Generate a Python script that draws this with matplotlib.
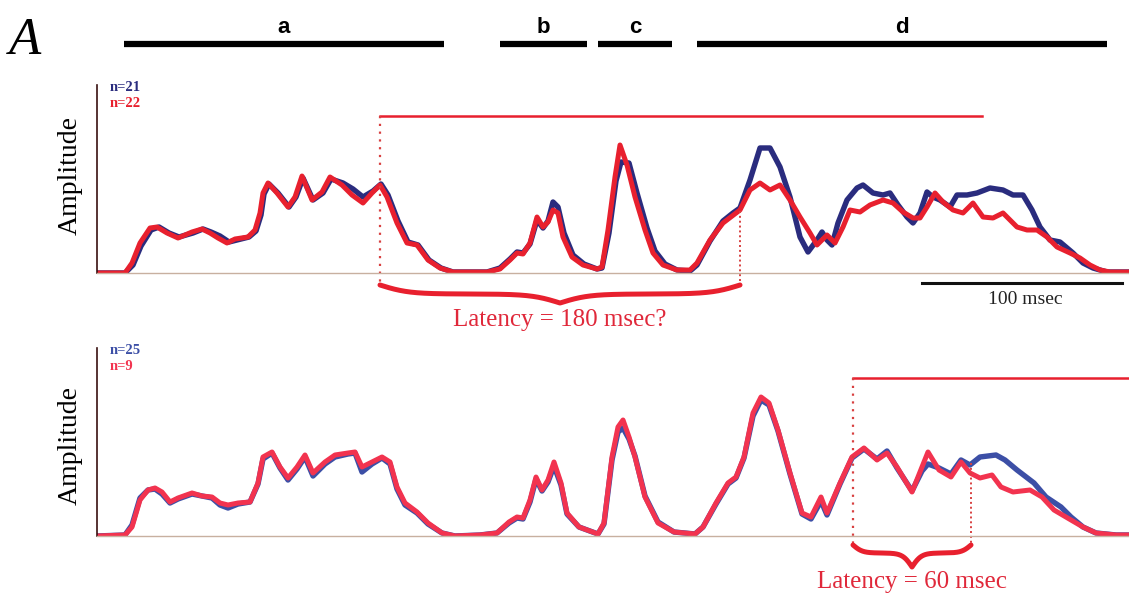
import numpy as np
from matplotlib import pyplot as plt

# time in msec, amplitude in arbitrary units (axis top = 188)
top_t_red = [0, 14, 17.5, 21.5, 26.5, 30, 35, 40.5, 47.5, 52.5, 56.5, 60.5, 65, 69, 75.5, 79, 81.5, 83,
             85.5, 90, 95.5, 99, 102.5, 107.5, 112.5, 116.5, 122.5, 127.5, 133, 137.5, 141.5, 145, 150,
             155, 160, 165.5, 171.5, 178, 195, 201.5, 206.5, 210, 213, 216.5, 220, 223, 225.5, 228,
             230.5, 233, 237.5, 243, 250, 252.5, 255.5, 259, 261.5, 265, 269, 274, 278, 283, 290, 296.5,
             300, 306.5, 313, 321.5, 326.5, 331.5, 336.5, 341.5, 346.5, 351.5, 356.5, 360, 365, 369,
             373, 376.5, 381.5, 386.5, 393, 398, 403, 408, 411.5, 415, 419, 423, 428, 433, 438, 443,
             448, 453, 460, 465, 470, 475, 480, 486.5, 491.5, 496.5, 501.5, 506.5, 516]
top_red = [0, 0, 10, 30, 45, 46, 40, 35, 41, 44, 40, 35, 30, 34, 36, 43, 60, 80,
           90, 80, 66, 76, 97, 73, 81, 96, 88, 78, 70, 80, 88, 76, 50,
           30, 28, 13, 5, 1, 1, 4, 13, 20, 19, 30, 56, 46, 51, 63,
           60, 36, 16, 8, 4, 6, 43, 96, 128, 108, 76, 43, 20, 8, 3, 3,
           10, 33, 50, 63, 83, 90, 83, 88, 73, 56, 40, 28, 38, 30,
           46, 63, 61, 68, 73, 70, 61, 55, 55, 66, 80, 71, 63, 60, 70, 56,
           55, 60, 46, 43, 43, 36, 26, 20, 15, 8, 3, 1, 1]

top_t_blue = [0, 14, 18, 22, 27, 31, 36, 41, 48, 53, 57, 61.5, 66, 70, 76, 79.5, 82, 83.5,
              86, 90.5, 96, 99.5, 103, 108, 113, 117, 123, 128, 133, 138, 142, 145.5, 150.5,
              155.5, 160.5, 166, 172, 178, 195, 201.5, 206.5, 210, 213, 216.5, 220, 223, 225.5, 228,
              230.5, 233.5, 238, 243.5, 250, 252.5, 256, 259.5, 262, 266, 270, 275, 279, 284, 290,
              296.5, 300, 306.5, 313, 318, 321.5, 326.5, 331.5, 336.5, 341.5, 346.5, 351.5, 355.5,
              360, 362.5, 365, 367.5, 370.5, 375, 380, 383, 388, 393, 396.5, 400.5, 405, 408, 411.5,
              415, 418, 421.5, 426.5, 430, 435, 440, 446.5, 453, 458, 463, 467.5, 471.5, 476.5,
              481.5, 488, 493, 498, 505, 516]
top_blue = [0, 0, 8, 27, 43, 46, 40, 36, 40, 44, 41, 37, 31, 33, 36, 42, 58, 79,
            89, 80, 66, 76, 95, 73, 80, 94, 90, 84, 76, 82, 89, 78, 52,
            31, 28, 13, 5, 1, 1, 5, 14, 21, 20, 29, 53, 45, 52, 71,
            66, 40, 18, 9, 4, 5, 40, 92, 111, 110, 80, 45, 22, 9, 3,
            2, 8, 32, 52, 60, 65, 93, 125, 125, 106, 76, 36, 21,
            33, 41, 33, 28, 50, 73, 85, 88, 80, 78, 80, 68, 56, 50, 60,
            81, 76, 73, 66, 78, 78, 80, 85, 83, 78, 78, 63, 46, 33,
            31, 20, 10, 5, 1, 1]

bot_t_red = [0, 14, 17.5, 21.5, 25.5, 29, 32.5, 36.5, 40.5, 47.5, 52.5, 57.5, 61.5, 65.5, 70.5, 76.5,
             80.5, 83, 87.5, 91.5, 95.5, 100, 104, 108, 114, 119, 125.5, 129, 132.5, 137.5, 142.5,
             146.5, 150, 154, 160, 165.5, 172.5, 179, 191.5, 200, 206, 210, 213, 216.5, 219.5, 222.5,
             225.5, 228.5, 232, 235, 241, 250.5, 253.5, 257.5, 260.5, 263, 266, 269, 274, 280.5, 288.5,
             299, 303, 309.5, 315.5, 319.5, 323.5, 328, 332, 336, 340.5, 346.5, 352.5, 357, 362, 365,
             371.5, 377.5, 383.5, 390, 395, 400, 407.5, 412.5, 415.5, 421, 427, 432, 436.5, 441.5,
             447.5, 452, 458, 466.5, 472.5, 478.5, 487, 493, 499.5, 509.5, 516]
bot_red = [0, 1, 9, 36, 46, 48, 44, 34, 38, 43, 40, 39, 33, 31, 33, 34,
           53, 79, 84, 69, 58, 69, 81, 63, 74, 81, 83, 84, 69, 74, 79,
           74, 49, 33, 24, 13, 3, 0, 1, 3, 14, 19, 18, 36, 59, 46,
           56, 74, 53, 23, 9, 2, 13, 79, 109, 116, 99, 79, 39, 13, 4,
           2, 9, 33, 53, 59, 79, 123, 139, 133, 106, 63, 23, 19, 39, 23,
           53, 79, 88, 76, 83, 69, 44, 69, 84, 66, 59, 74, 63, 58,
           61, 49, 44, 46, 39, 26, 16, 9, 3, 1, 1]

bot_t_blue = [0, 14, 17.5, 21.5, 25.5, 29, 32.5, 36.5, 40.5, 47.5, 52.5, 57.5, 61.5, 65.5, 70.5, 76.5,
              80.5, 83, 87.5, 91.5, 95.5, 100, 104, 108, 114, 119, 125.5, 129, 132.5, 137.5, 142.5,
              146.5, 150, 154, 160, 165.5, 172.5, 179, 191.5, 200, 206, 210, 213, 216.5, 219.5, 222.5,
              225.5, 228.5, 232, 235, 241, 250.5, 253.5, 257.5, 260.5, 263, 266, 269, 274, 280.5, 288.5,
              299, 303, 309.5, 315.5, 319.5, 323.5, 328, 332, 336, 340.5, 346.5, 352.5, 357, 362, 365,
              371.5, 377.5, 383.5, 390, 395, 400, 407.5, 412.5, 415.5, 421, 427, 432, 436.5, 441.5,
              449.5, 454, 460, 468.5, 474.5, 482, 487, 493, 499.5, 509.5, 516]
bot_blue = [0, 1, 11, 38, 46, 47, 42, 33, 37, 42, 40, 38, 31, 28, 32, 34,
            52, 77, 83, 68, 56, 67, 79, 60, 72, 79, 82, 83, 64, 72, 78,
            72, 47, 31, 23, 12, 3, 0, 1, 3, 13, 18, 17, 34, 57, 45,
            54, 70, 51, 22, 9, 2, 12, 76, 104, 108, 97, 80, 40, 14, 4,
            2, 9, 32, 52, 58, 78, 120, 136, 131, 105, 62, 22, 17, 35, 21,
            52, 78, 87, 77, 85, 68, 45, 65, 72, 68, 62, 76, 71, 79,
            81, 76, 66, 53, 39, 29, 19, 9, 3, 1, 1]

segments = ['a', 'b', 'c', 'd']
seg_start = [13.5, 201.5, 250.5, 300]
seg_end = [173.5, 245, 287.5, 505]

top_n = ['n=21', 'n=22']
bot_n = ['n=25', 'n=9']
top_latency = [141.5, 321.5]   # onset marks (msec)
bot_latency = [378, 437]
top_text = 'Latency = 180 msec?'
bot_text = 'Latency = 60 msec'

NAVY = '#2a2c7e'
RED = '#e8202e'
BLUE2 = '#3c4fa6'
PINK = '#f2334f'
SERIF = 'Liberation Serif'


def brace(ax, x0, x1, y_end, y_flat, y_tip, color):
    span = x1 - x0
    beta = 3.0 / (0.12 * span)
    xm = (x0 + x1) / 2
    xh = np.linspace(x0, xm, 200)
    u = 1 / (1 + np.exp(-beta * (xh - x0))) - 0.5
    v = 1 / (1 + np.exp(-beta * (xh - xm)))
    yh = y_end - 2 * u * (y_end - y_flat) - 2 * v * (y_flat - y_tip)
    xs = np.concatenate([xh, 2 * xm - xh[::-1]])
    ys = np.concatenate([yh, yh[::-1]])
    ax.plot(xs, ys, color=color, lw=3.6, clip_on=False, solid_capstyle='round')


def style_axes(ax):
    ax.set_xlim(0, 516)
    ax.set_ylim(0, 188)
    ax.set_xticks([])
    ax.set_yticks([])
    for s in ['top', 'right']:
        ax.spines[s].set_visible(False)
    ax.spines['left'].set_color('#3a1010')
    ax.spines['left'].set_linewidth(1.2)
    ax.spines['bottom'].set_color('#c8b0a0')
    ax.spines['bottom'].set_linewidth(1.0)
    ax.patch.set_alpha(0)


fig = plt.figure(figsize=(11.29, 5.99), dpi=100)
ax1 = fig.add_axes([0.08592, 0.54424, 0.91408, 0.31386])
ax2 = fig.add_axes([0.08592, 0.10518, 0.91408, 0.31386])
style_axes(ax1)
style_axes(ax2)

# top panel
ax1.plot(top_t_blue, top_blue, color=NAVY, lw=3.9, solid_joinstyle='round')
ax1.plot(top_t_red, top_red, color=RED, lw=3.6, solid_joinstyle='round')
ax1.text(0.012, 0.985, top_n[0], transform=ax1.transAxes, color=NAVY, fontsize=10.5,
         fontweight='bold', family=SERIF, va='center')
ax1.text(0.012, 0.9, top_n[1], transform=ax1.transAxes, color=RED, fontsize=10.5,
         fontweight='bold', family=SERIF, va='center')
ax1.text(-0.026, 0.52, 'Amplitude', transform=ax1.transAxes, rotation=90, ha='center',
         va='center', fontsize=20, family=SERIF)

ax1.plot([top_latency[0], 442.5], [157, 157], color=RED, lw=1.8, clip_on=False)
ax1.plot([top_latency[0]] * 2, [157, -12], color='#d84040', lw=1.6, ls=(0, (1, 2.5)), clip_on=False)
ax1.plot([top_latency[1]] * 2, [62, -12], color='#d84040', lw=1.4, ls=(0, (1, 1.5)), clip_on=False)
brace(ax1, top_latency[0], top_latency[1], -12, -21, -30, RED)
ax1.text(sum(top_latency) / 2, -47, top_text, ha='center', va='center', fontsize=18,
         color='#e0283a', family=SERIF)

# scale bar 100 msec
ax1.plot([412.5, 512.5], [-10, -10], color='#111111', lw=2.2, clip_on=False)
ax1.text(464, -26, '100 msec', ha='center', va='center', fontsize=14, color='#222222', family=SERIF)

# segment bars
for name, s0, s1 in zip(segments, seg_start, seg_end):
    ax1.plot([s0, s1], [229, 229], color='black', lw=4.5, clip_on=False, solid_capstyle='butt')
    ax1.text((s0 + s1) / 2, 245, name, ha='center', va='center', fontsize=16,
             fontweight='bold', family='Liberation Sans')
ax1.text(-36, 232, 'A', ha='center', va='center', fontsize=38, style='italic', family=SERIF)

# bottom panel
ax2.plot(bot_t_blue, bot_blue, color=BLUE2, lw=3.9, solid_joinstyle='round')
ax2.plot(bot_t_red, bot_red, color=PINK, lw=3.6, solid_joinstyle='round')
ax2.text(0.012, 0.985, bot_n[0], transform=ax2.transAxes, color=BLUE2, fontsize=10.5,
         fontweight='bold', family=SERIF, va='center')
ax2.text(0.012, 0.9, bot_n[1], transform=ax2.transAxes, color=PINK, fontsize=10.5,
         fontweight='bold', family=SERIF, va='center')
ax2.text(-0.026, 0.48, 'Amplitude', transform=ax2.transAxes, rotation=90, ha='center',
         va='center', fontsize=20, family=SERIF)

ax2.plot([bot_latency[0], 516], [158, 158], color=RED, lw=1.8, clip_on=False)
ax2.plot([bot_latency[0]] * 2, [158, -9], color='#d84040', lw=1.6, ls=(0, (1, 2.5)), clip_on=False)
ax2.plot([bot_latency[1]] * 2, [73, -9], color='#d84040', lw=1.4, ls=(0, (1, 1.5)), clip_on=False)
brace(ax2, bot_latency[0], bot_latency[1], -9, -17, -31, RED)
ax2.text(sum(bot_latency) / 2, -46, bot_text, ha='center', va='center', fontsize=18,
         color='#e0283a', family=SERIF)

fig.savefig('out.png', dpi=100, facecolor='white')
